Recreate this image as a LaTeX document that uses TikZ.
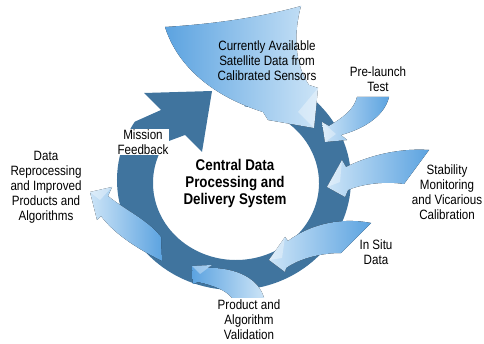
\documentclass[tikz,border=0pt]{standalone}
\usepackage{fontspec}
\setmainfont{Liberation Sans}[FakeStretch=0.86]
\usetikzlibrary{positioning,calc}
\definecolor{ringColor}{RGB}{64,116,158}
\definecolor{feedDeep}{RGB}{92,163,224}
\definecolor{feedPale}{RGB}{204,228,247}
\tikzstyle{diagram} = [x = 1pt, y = -1pt]
\tikzstyle{ringStyle} = [fill=ringColor]
\tikzstyle{feedStyle} = [left color=feedDeep, right color=feedPale]
\tikzstyle{feedBack} = [left color=feedPale, right color=feedDeep]
\tikzstyle{facetStyle} = [fill=white, opacity=0.35]
\tikzstyle{labelText} = [font=\fontsize{13.5}{15}\selectfont, align=center, inner sep=1pt]
\tikzstyle{centerText} = [font=\fontsize{15.5}{17}\selectfont\bfseries, align=center]
\newcommand{\headFacet}[3]{\fill [facetStyle] #1 -- #2 -- #3 -- cycle;}

\begin{document}
\begin{tikzpicture}[diagram]
        \useasboundingbox (0,0) rectangle (484,344);
        \coordinate (ringCenter) at (234,180);
        \coordinate (holeCenter) at (236,183);

        % main cycle with its head
        \fill [ringStyle] ($(ringCenter)+(-84:117 and 110)$)
          arc [start angle=-84, end angle=212, x radius=117, y radius=110]
          -- (161,110) -- (144,93) -- (212,91) -- (202,152) -- (185,135)
          -- ($(holeCenter)+(212:83 and 77)$)
          arc [start angle=212, end angle=-84, x radius=83, y radius=77] -- cycle;

        % inputs and outputs
        \fill [feedStyle] (165,27) .. controls (215,24) and (262,17) .. (301,6)
          .. controls (293,35) and (295,65) .. (309,85) -- (318,88) -- (314,128)
          -- (268,120) -- (263,112) .. controls (215,97) and (178,68) .. (165,27) -- cycle;
        \headFacet{(318,88)}{(314,128)}{(298,112)}

        \fill [feedBack] (357,97) -- (389,97) .. controls (384,118) and (360,130) .. (341,135)
          -- (347,140) -- (325,142) -- (322,122) -- (329,126)
          .. controls (342,118) and (354,110) .. (357,97) -- cycle;
        \headFacet{(322,122)}{(325,142)}{(336,134)}

        \fill [feedBack] (429,150) -- (404,184) .. controls (385,181) and (362,184) .. (348,190)
          -- (345,197) -- (327,187) -- (342,160) -- (346,167)
          .. controls (370,155) and (400,148) .. (429,150) -- cycle;
        \headFacet{(342,160)}{(327,187)}{(340,182)}

        \fill [feedBack] (371,223) -- (341,253) .. controls (322,253) and (300,258) .. (286,268)
          -- (285,272) -- (269,260) -- (285,237) -- (288,241)
          .. controls (305,228) and (335,216) .. (371,223) -- cycle;
        \headFacet{(285,237)}{(269,260)}{(282,258)}

        \fill [feedStyle] (264,298) -- (232,298) .. controls (226,290) and (212,285) .. (198,282)
          -- (193,284) -- (192,266) -- (212,265) -- (207,268)
          .. controls (236,267) and (259,279) .. (264,298) -- cycle;
        \headFacet{(192,266)}{(212,265)}{(200,274)}

        \fill [feedBack] (161,237) -- (162,261) .. controls (140,250) and (115,235) .. (101,216)
          -- (97,220) -- (90,192) -- (112,187) -- (108,196)
          .. controls (125,210) and (148,220) .. (161,237) -- cycle;
        \headFacet{(90,192)}{(112,187)}{(100,200)}

        % labels
        \node [labelText] (satLabel) at (267,61) {Currently Available\\Satellite Data from\\Calibrated Sensors};
        \node [labelText] (launchLabel) at (378,79) {Pre-launch\\Test};
        \node [labelText] (stabilityLabel) at (447,192) {Stability\\Monitoring\\and Vicarious\\Calibration};
        \node [labelText] (situLabel) at (376,252) {In Situ\\Data};
        \node [labelText] (validLabel) at (249,320) {Product and\\Algorithm\\Validation};
        \node [labelText] (reprocLabel) at (46,187) {Data\\Reprocessing\\and Improved\\Products and\\Algorithms};
        \node [labelText, fill=white] (missionLabel) at (143,142) {Mission\\Feedback};
        \node [centerText] (hubLabel) at (235,183) {Central Data\\Processing and\\Delivery System};
      \end{tikzpicture}
\end{document}
